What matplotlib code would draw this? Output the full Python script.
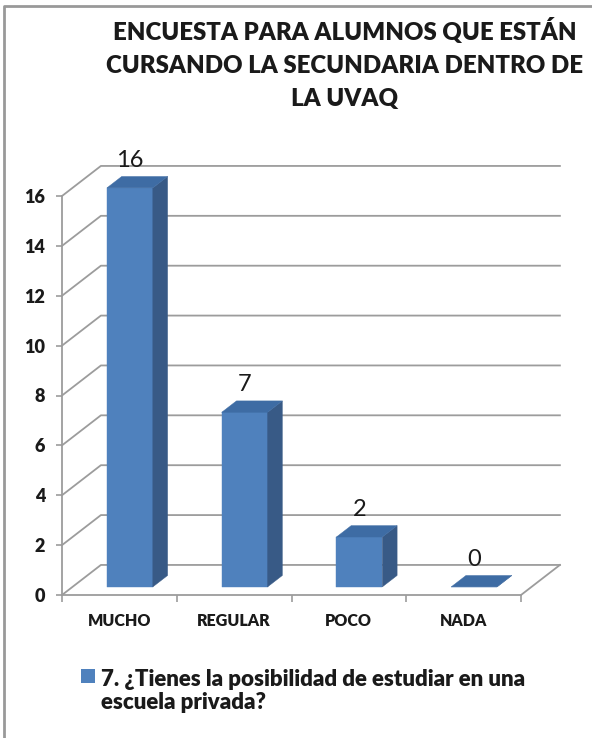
import matplotlib
matplotlib.use("Agg")
import matplotlib.pyplot as plt
from matplotlib.patches import Polygon

# chart data
categories = ["MUCHO", "REGULAR", "POCO", "NADA"]
values = [16, 7, 2, 0]
y_ticks = [0, 2, 4, 6, 8, 10, 12, 14, 16]
title = "ENCUESTA PARA ALUMNOS QUE ESTÁN\nCURSANDO LA SECUNDARIA DENTRO DE\nLA UVAQ"
legend_label = "7. ¿Tienes la posibilidad de estudiar en una\nescuela privada?"

plt.rcParams["font.family"] = ["Lato", "DejaVu Sans"]

# fake 3d: depth offset in data units (x in categories, y in values)
DX, DY = 0.339, 1.205
D0, D1 = 0.27, 0.65      # bar depth range
BW = 0.4                 # bar width as fraction of category

front_c = "#4F81BD"
side_c = "#385A86"
top_c = "#3E6CA4"
grid_c = "#9C9C9C"
txt_c = "#1a1a1a"


def proj(x, y, d):
    return (x + d * DX, y + d * DY)


fig = plt.figure(figsize=(5.92, 7.38), dpi=100)
ax = fig.add_axes([62 / 592, 1 - 595 / 738, 459 / 592, 399 / 738])
n = len(categories)
ax.set_xlim(0, n)
ax.set_ylim(0, max(y_ticks))

# walls / gridlines
for v in y_ticks:
    xs = [0, DX, n + DX]
    ys = [v, v + DY, v + DY]
    ax.plot(xs, ys, color=grid_c, lw=1.3, clip_on=False, zorder=1)
ax.plot([n, n + DX], [0, DY], color=grid_c, lw=1.3, clip_on=False, zorder=1)

# bars
for i, v in enumerate(values):
    x0 = i + (1 - BW) / 2
    x1 = x0 + BW
    front = [proj(x0, 0, D0), proj(x1, 0, D0), proj(x1, v, D0), proj(x0, v, D0)]
    side = [proj(x1, 0, D0), proj(x1, 0, D1), proj(x1, v, D1), proj(x1, v, D0)]
    top = [proj(x0, v, D0), proj(x1, v, D0), proj(x1, v, D1), proj(x0, v, D1)]
    for pts, c in ((front, front_c), (side, side_c), (top, top_c)):
        ax.add_patch(Polygon(pts, closed=True, facecolor=c, edgecolor=c,
                             lw=0.3, clip_on=False, zorder=3))
    cx, cy = proj((x0 + x1) / 2, v, D0)
    ax.text(cx, cy + 1.1, str(v), ha="center", va="center", fontsize=17,
            color=txt_c, zorder=4)

# axes styling
for s in ("top", "right"):
    ax.spines[s].set_visible(False)
for s in ("left", "bottom"):
    ax.spines[s].set_color(grid_c)
    ax.spines[s].set_linewidth(1.3)
ax.set_yticks(y_ticks)
ax.set_yticklabels([str(t) for t in y_ticks], fontweight="heavy", fontsize=13,
                   color=txt_c)
ax.tick_params(axis="y", length=4, width=1.2, color=grid_c, pad=8)
ax.set_xticks(range(n + 1), minor=True)
ax.set_xticks([i + 0.5 for i in range(n)])
ax.set_xticklabels(categories, fontweight="heavy", fontsize=11.5, color=txt_c)
ax.tick_params(axis="x", which="major", length=0, pad=13)
ax.tick_params(axis="x", which="minor", length=5, width=1.2, color=grid_c)
ax.patch.set_visible(False)

# title
fig.text(345 / 592, 1 - 64 / 738, title, ha="center", va="center",
         fontsize=17.3, fontweight="heavy", color=txt_c, linespacing=1.6)

# legend
fig.patches.append(Polygon([(81 / 592, 1 - 683 / 738), (95 / 592, 1 - 683 / 738),
                            (95 / 592, 1 - 669 / 738), (81 / 592, 1 - 669 / 738)],
                           closed=True, transform=fig.transFigure,
                           facecolor=front_c, edgecolor="none"))
fig.text(101 / 592, 1 - 691 / 738, legend_label, ha="left", va="center",
         fontsize=16, fontweight="heavy", color=txt_c, linespacing=1.15)

# chart border (top and left edges visible)
fig.add_artist(plt.Line2D([4 / 592, 4 / 592, 1], [0, 1 - 6 / 738, 1 - 6 / 738],
                          transform=fig.transFigure, color="#999999", lw=2))

fig.savefig("out.png", dpi=100)
